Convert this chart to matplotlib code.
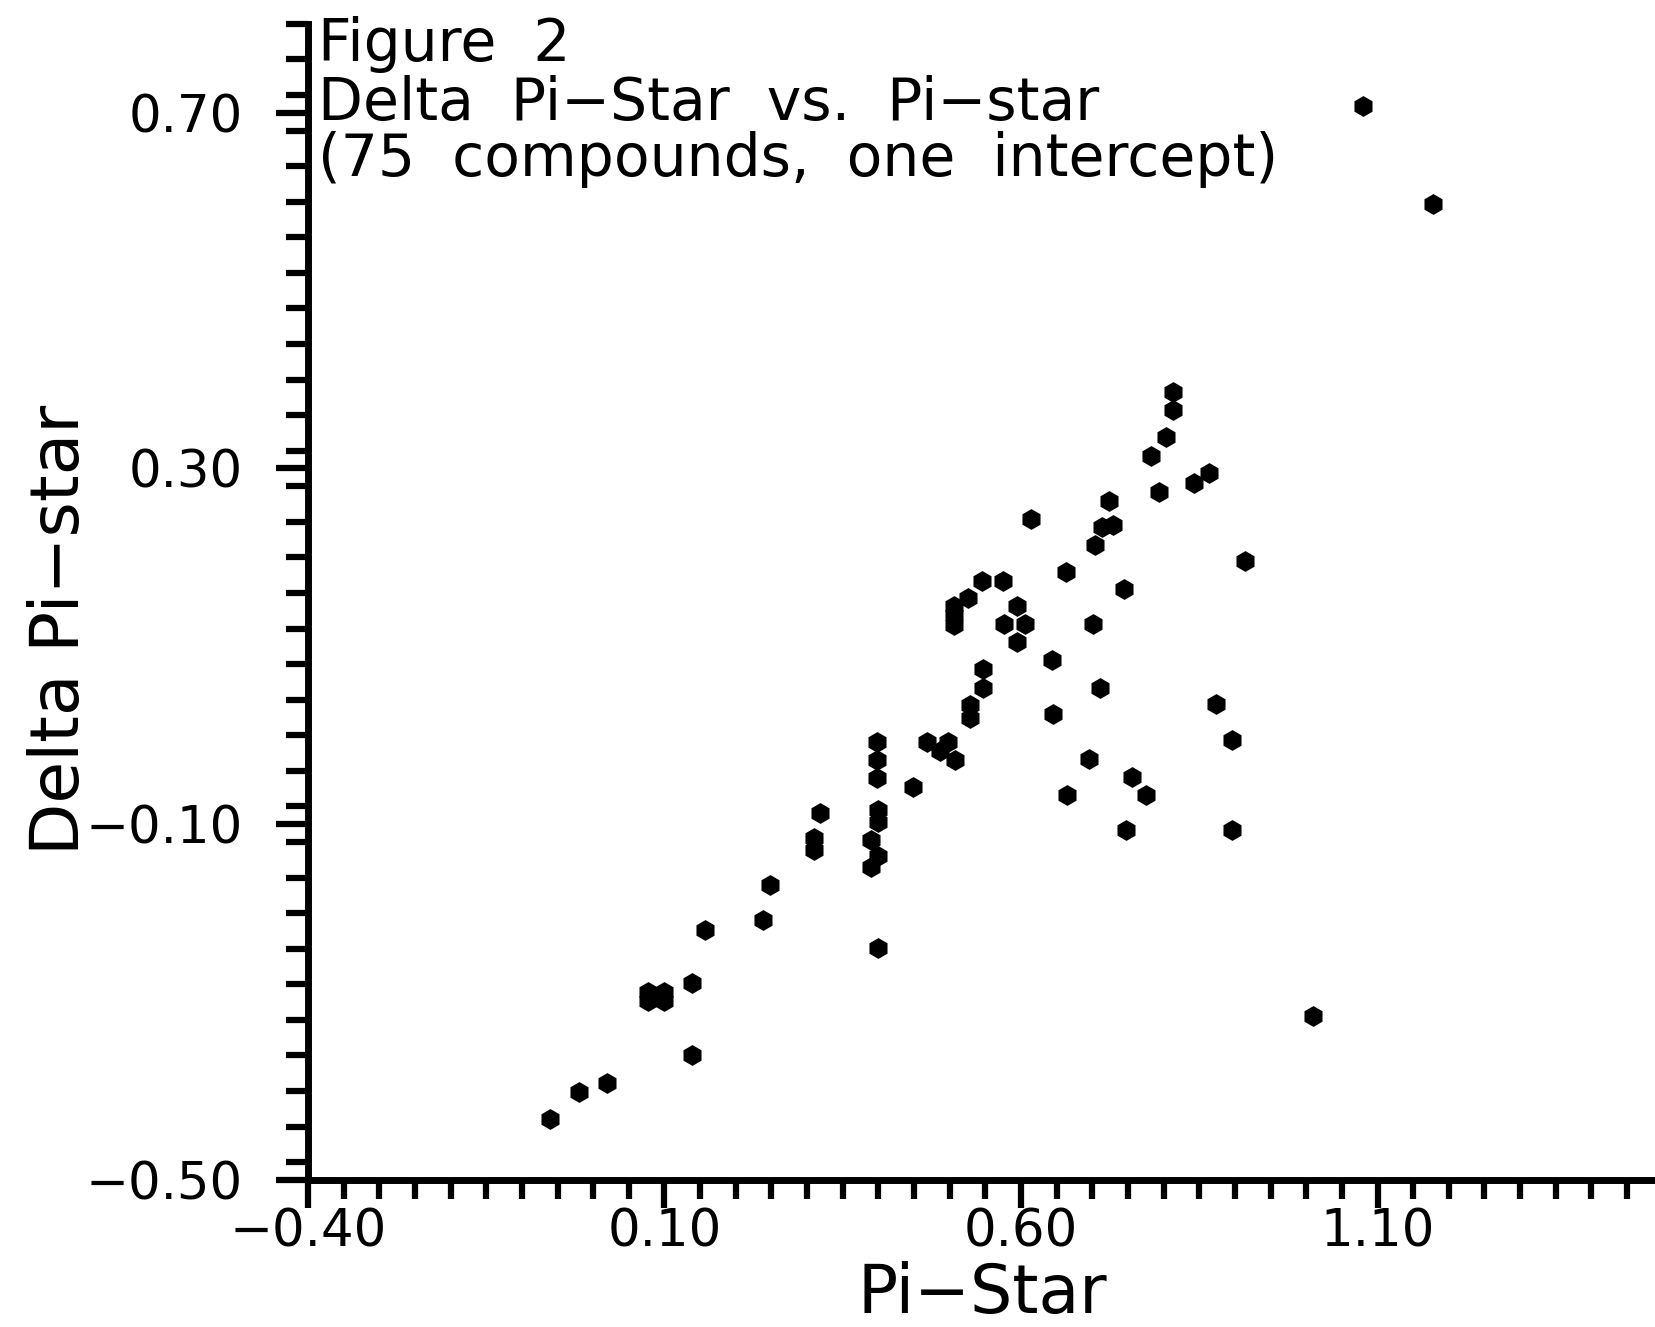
import matplotlib
matplotlib.use("Agg")
import matplotlib.pyplot as plt
from matplotlib.ticker import FixedLocator, FuncFormatter, MultipleLocator

# ---- data ----
pi_star = [
    1.080, 1.178, 0.813, 0.813, 0.803, 0.783, 0.794, 0.843, 0.863, 0.724,
    0.713, 0.729, 0.704, 0.614, 0.914, 0.663, 0.744, 0.546, 0.575, 0.526,
    0.506, 0.506, 0.506, 0.594, 0.576, 0.606, 0.595, 0.701, 0.644, 0.547,
    0.547, 0.528, 0.528, 0.711, 0.645, 0.874, 0.896, 0.696, 0.756, 0.776,
    0.665, 0.747, 0.896, 0.398, 0.398, 0.398, 0.468, 0.498, 0.486, 0.507,
    0.449, 0.400, 0.400, 0.389, 0.400, 0.389, 0.400, 0.318, 0.309, 0.309,
    0.248, 0.238, 0.157, 0.138, 0.077, 0.099, 0.077, 0.099, 0.138, 0.019,
    -0.020, -0.060, 1.009,
]
delta_pi_star = [
    0.708, 0.597, 0.386, 0.366, 0.335, 0.314, 0.274, 0.284, 0.295, 0.264,
    0.234, 0.236, 0.214, 0.243, 0.196, 0.184, 0.165, 0.174, 0.174, 0.154,
    0.145, 0.135, 0.124, 0.145, 0.125, 0.125, 0.105, 0.125, 0.085, 0.074,
    0.053, 0.034, 0.019, 0.053, 0.024, 0.035, -0.005, -0.027, -0.047, -0.067,
    -0.067, -0.106, -0.106, -0.008, -0.028, -0.048, -0.008, -0.007, -0.018, -0.028,
    -0.058, -0.084, -0.097, -0.118, -0.136, -0.148, -0.239, -0.087, -0.116, -0.129,
    -0.168, -0.208, -0.219, -0.279, -0.289, -0.289, -0.299, -0.299, -0.359, -0.391,
    -0.401, -0.431, -0.316,
]
x_major = [-0.40, 0.10, 0.60, 1.10]
y_major = [-0.50, -0.10, 0.30, 0.70]
title_lines = ["Figure  2", "Delta  Pi\u2212Star  vs.  Pi\u2212star",
               "(75  compounds,  one  intercept)"]
x_label = "Pi\u2212Star"
y_label = "Delta Pi\u2212star"

W, H = 1656, 1327
fig = plt.figure(figsize=(W / 100, H / 100), dpi=100)
fig.patch.set_facecolor("white")

ax = fig.add_axes([308 / W, 147 / H, 1426 / W, 1156.2 / H])
ax.set_xlim(-0.40, 1.60)
ax.set_ylim(-0.50, 0.80)

ax.plot(pi_star, delta_pi_star, linestyle="none", marker="h", ms=15,
        color="black", mew=0, clip_on=False)

for s in ("top", "right"):
    ax.spines[s].set_visible(False)
for s in ("left", "bottom"):
    ax.spines[s].set_linewidth(5.0)
    ax.spines[s].set_color("black")

fmt = FuncFormatter(lambda v, p: f"{v:.2f}".replace("-", "\u2212"))
ax.xaxis.set_major_locator(FixedLocator(x_major))
ax.xaxis.set_minor_locator(MultipleLocator(0.05))
ax.yaxis.set_major_locator(FixedLocator(y_major))
ax.yaxis.set_minor_locator(MultipleLocator(0.04))
ax.xaxis.set_major_formatter(fmt)
ax.yaxis.set_major_formatter(fmt)

ax.tick_params(axis="x", which="major", direction="out", length=20, width=4.5,
               pad=0, labelsize=37)
ax.tick_params(axis="x", which="minor", direction="out", length=14, width=4.5)
ax.tick_params(axis="y", which="major", direction="out", length=23, width=4.5,
               pad=24, labelsize=37)
ax.tick_params(axis="y", which="minor", direction="out", length=16, width=4.5)

title_baselines = [61, 120, 176]
for line, yb in zip(title_lines, title_baselines):
    fig.text(318 / W, 1 - yb / H, line, ha="left", va="baseline", fontsize=42)

fig.text(982 / W, 1 - 1313 / H, x_label, ha="center", va="baseline",
         fontsize=48)
fig.text(79 / W, 1 - 630 / H, y_label, rotation=90, rotation_mode="anchor",
         ha="center", va="baseline", fontsize=49)

fig.savefig("out.png", dpi=100, facecolor="white")
